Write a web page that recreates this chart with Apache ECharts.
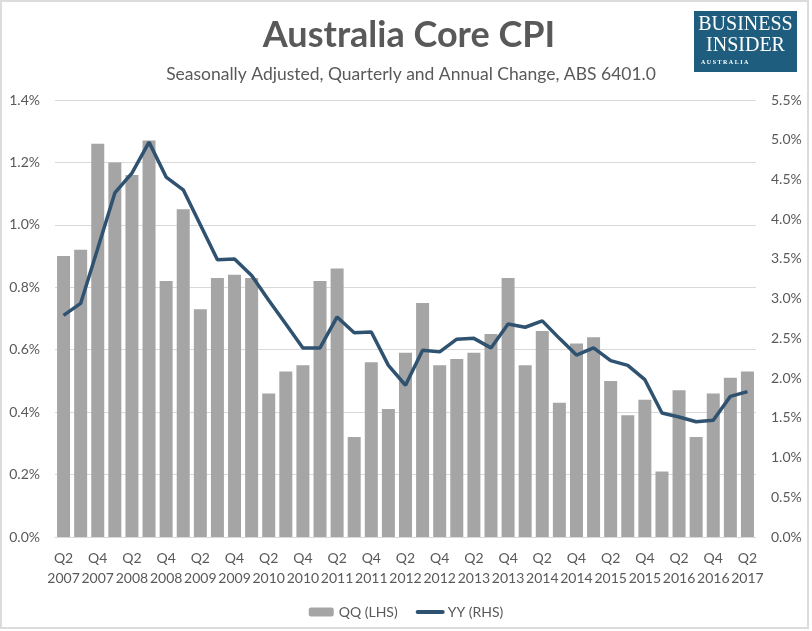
<!DOCTYPE html>
<html>
<head>
<meta charset="utf-8">
<style>
html,body{margin:0;padding:0;background:#fff;}
#chart{width:812px;height:631px;}
</style>
<script src="https://cdn.jsdelivr.net/npm/echarts@6/dist/echarts.min.js"></script>
</head>
<body>
<div id="chart"></div>
<script>
const categories = [
  'Q2 2007','Q3 2007','Q4 2007','Q1 2008','Q2 2008','Q3 2008','Q4 2008','Q1 2009','Q2 2009','Q3 2009','Q4 2009',
  'Q1 2010','Q2 2010','Q3 2010','Q4 2010','Q1 2011','Q2 2011','Q3 2011','Q4 2011','Q1 2012','Q2 2012','Q3 2012',
  'Q4 2012','Q1 2013','Q2 2013','Q3 2013','Q4 2013','Q1 2014','Q2 2014','Q3 2014','Q4 2014','Q1 2015','Q2 2015',
  'Q3 2015','Q4 2015','Q1 2016','Q2 2016','Q3 2016','Q4 2016','Q1 2017','Q2 2017'
];
const qqValues = [0.90,0.92,1.26,1.20,1.16,1.27,0.82,1.05,0.73,0.83,0.84,0.83,0.46,0.53,0.55,0.82,0.86,0.32,0.56,0.41,
  0.59,0.75,0.55,0.57,0.59,0.65,0.83,0.55,0.66,0.43,0.62,0.64,0.50,0.39,0.44,0.21,0.47,0.32,0.46,0.51,0.53];
const yyValues = [2.79,2.94,3.63,4.33,4.58,4.97,4.53,4.37,3.93,3.49,3.50,3.29,2.98,2.68,2.38,2.38,2.77,2.57,2.58,2.16,
  1.91,2.35,2.33,2.49,2.50,2.38,2.68,2.64,2.72,2.50,2.29,2.38,2.22,2.16,1.98,1.56,1.51,1.45,1.47,1.77,1.83];
const titleText = 'Australia Core CPI';
const subtitleText = 'Seasonally Adjusted, Quarterly and Annual Change, ABS 6401.0';
const seriesNames = ['QQ (LHS)', 'YY (RHS)'];

const FONT = 'Lato, "Open Sans", sans-serif';
const chart = echarts.init(document.getElementById('chart'), null, {renderer: 'canvas'});
chart.setOption({
  backgroundColor: '#fff',
  animation: false,
  textStyle: {fontFamily: FONT},
  title: [
    {text: titleText, left: 404, textAlign: 'center', top: 12,
     textStyle: {fontFamily: FONT, fontWeight: 'bold', fontSize: 36, color: '#595959'}},
    {text: subtitleText, left: 406, textAlign: 'center', top: 60,
     textStyle: {fontFamily: FONT, fontWeight: 'normal', fontSize: 17.5, color: '#595959'}}
  ],
  graphic: [
    {type: 'rect', shape: {x: 1, y: 1, width: 807, height: 627}, style: {fill: 'none', stroke: '#dcdcdc', lineWidth: 2}, silent: true},
    {type: 'group', left: 694, top: 11, children: [
      {type: 'rect', shape: {x: 0, y: 0, width: 103, height: 61}, style: {fill: '#1e5d7e'}},
      {type: 'text', x: 51.5, y: 4, style: {text: 'BUSINESS', fill: '#fff', font: '20px "Liberation Serif", "DejaVu Serif", serif', textAlign: 'center'}},
      {type: 'text', x: 51.5, y: 25, style: {text: 'INSIDER', fill: '#fff', font: '20px "Liberation Serif", "DejaVu Serif", serif', textAlign: 'center'}},
      {type: 'text', x: 7, y: 48, style: {text: 'A U S T R A L I A', fill: '#fff', font: 'bold 6px "Liberation Serif", serif', textAlign: 'left'}}
    ]}
  ],
  legend: {
    data: [
      {name: seriesNames[0]},
      {name: seriesNames[1], itemStyle: {opacity: 0}, lineStyle: {width: 4, cap: 'round'}}
    ],
    left: 'center',
    top: 600,
    itemWidth: 25,
    itemHeight: 9,
    itemGap: 18,
    textStyle: {fontFamily: FONT, fontSize: 14, color: '#595959'}
  },
  grid: {left: 55, right: 56, top: 100, bottom: 94, containLabel: false},
  xAxis: {
    type: 'category',
    data: categories,
    axisLine: {lineStyle: {color: '#d9d9d9', width: 1}},
    axisTick: {show: false},
    axisLabel: {
      interval: 1,
      color: '#595959',
      fontSize: 14,
      fontFamily: FONT,
      margin: 11,
      lineHeight: 20,
      formatter: v => v.replace(' ', '\n')
    }
  },
  yAxis: [
    {type: 'value', min: 0, max: 1.4, interval: 0.2,
     axisLine: {show: false}, axisTick: {show: false},
     splitLine: {lineStyle: {color: '#d9d9d9', width: 1}},
     axisLabel: {color: '#595959', fontSize: 14, fontFamily: FONT, margin: 15, formatter: v => v.toFixed(1) + '%'}},
    {type: 'value', min: 0, max: 5.5, interval: 0.5, position: 'right',
     axisLine: {show: false}, axisTick: {show: false}, splitLine: {show: false},
     axisLabel: {color: '#595959', fontSize: 14, fontFamily: FONT, margin: 15, formatter: v => v.toFixed(1) + '%'}}
  ],
  series: [
    {name: seriesNames[0], type: 'bar', yAxisIndex: 0, data: qqValues, barCategoryGap: '24%',
     itemStyle: {color: '#a5a5a5'}},
    {name: seriesNames[1], type: 'line', yAxisIndex: 1, data: yyValues, symbol: 'none',
     lineStyle: {color: '#2f5270', width: 3.5}, itemStyle: {color: '#2f5270'}}
  ]
});
</script>
</body>
</html>
